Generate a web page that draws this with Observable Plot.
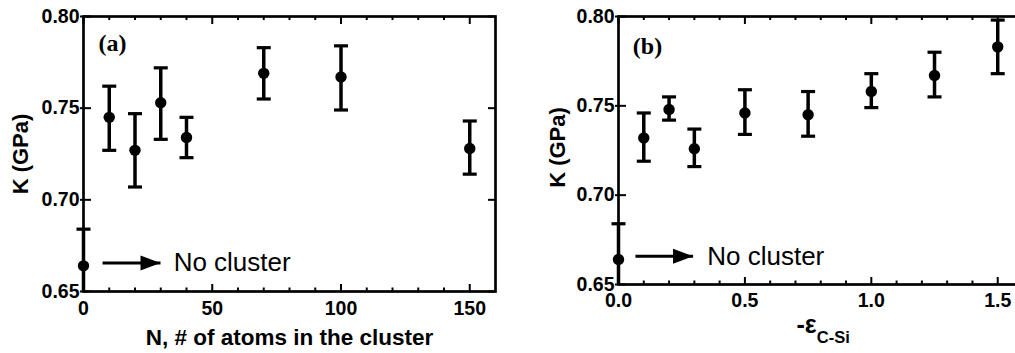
<!DOCTYPE html>
<html>
<head>
<meta charset="utf-8">
<script src="https://cdn.jsdelivr.net/npm/d3@7"></script>
<script src="https://cdn.jsdelivr.net/npm/@observablehq/plot@0.6"></script>
<style>
  html, body { margin: 0; padding: 0; background: #fff; overflow: hidden; }
  #wrap { position: relative; width: 1015px; height: 353px; overflow: hidden; background: #fff; }
  #wrap svg { position: absolute; top: 0; background: #fff; }
</style>
</head>
<body>
<div id="wrap"></div>
<script>
// ---- Panel (a): bulk modulus vs. cluster size ----
const clusterN   = [0, 10, 20, 30, 40, 70, 100, 150];
const clusterK   = [0.664, 0.745, 0.727, 0.753, 0.734, 0.769, 0.767, 0.728];
const clusterHi  = [0.684, 0.762, 0.747, 0.772, 0.745, 0.783, 0.784, 0.743];
const clusterLo  = [0.644, 0.727, 0.707, 0.733, 0.723, 0.755, 0.749, 0.714];

// ---- Panel (b): bulk modulus vs. C–Si interaction strength ----
const epsCSi     = [0, 0.1, 0.2, 0.3, 0.5, 0.75, 1.0, 1.25, 1.5];
const epsK       = [0.664, 0.732, 0.748, 0.726, 0.746, 0.745, 0.758, 0.767, 0.783];
const epsHi      = [0.684, 0.746, 0.755, 0.737, 0.759, 0.758, 0.768, 0.780, 0.798];
const epsLo      = [0.644, 0.719, 0.742, 0.716, 0.734, 0.733, 0.749, 0.755, 0.768];

// ---- Tick positions ----
const yTicks      = [0.65, 0.70, 0.75, 0.80];
const xMajorA     = [0, 50, 100, 150];
const xMinorA     = [10, 20, 30, 40, 60, 70, 80, 90, 110, 120, 130, 140];
const xMajorB     = [0, 0.5, 1.0, 1.5];
const xMinorB     = [0.1, 0.2, 0.3, 0.4, 0.6, 0.7, 0.8, 0.9, 1.1, 1.2, 1.3, 1.4];

// ---- Labels and "No cluster" annotation (data units) ----
const panelTags   = ["(a)", "(b)"];
const yTitle      = "K (GPa)";
const xTitleA     = "N, # of atoms in the cluster";
const xTitleB     = ["-ε", "C-Si"];
const noteText    = "No cluster";
const noteA       = {x1: 7.4, x2: 29.9, y: 0.6655, tx: 35};
const noteB       = {x1: 0.067, x2: 0.295, y: 0.6658, tx: 0.351};

const FONT = "'Liberation Sans', Arial, Helvetica, sans-serif";
const SERIF = "'Liberation Serif', 'Times New Roman', serif";

// horizontal error-bar cap
const capSymbol = {draw(ctx) { ctx.moveTo(-7, 0); ctx.lineTo(7, 0); }};
// filled arrowhead, tip at the anchor point, pointing right
const headSymbol = {draw(ctx) { ctx.moveTo(0, 0); ctx.lineTo(-20, -7.5); ctx.lineTo(-20, 7.5); ctx.closePath(); }};

function rows(xs, k, lo, hi) {
  return xs.map((x, i) => ({x, k: k[i], lo: lo[i], hi: hi[i]}));
}

function panel({data, xDomain, xMajor, xMinor, xFormat, width, height, mt, mr, mb, ml,
                tag, tagDy, note, xTitleMarks, yTitleDx, yTitleDy, xPad}) {
  const plotW = width - ml - mr;
  const plotH = height - mt - mb;
  const caps = data.flatMap(d => [d.hi, d.lo].map(v => ({x: d.x, v})))
                   .filter(c => c.v >= 0.65 && c.v <= 0.80);
  return Plot.plot({
    width, height,
    marginTop: mt, marginRight: mr, marginBottom: mb, marginLeft: ml,
    style: {fontFamily: FONT, fontWeight: "bold", fontSize: "19px", background: "#fff", color: "#000"},
    x: {domain: xDomain},
    y: {domain: [0.65, 0.80], clamp: true},
    marks: [
      // inward ticks on all four sides
      Plot.tickX(xMinor, {x: d => d, insetTop: plotH - 3.5, strokeWidth: 2}),
      Plot.tickX(xMajor, {x: d => d, insetTop: plotH - 7, strokeWidth: 2}),
      Plot.tickX(xMinor, {x: d => d, insetBottom: plotH - 4, strokeWidth: 2}),
      Plot.tickX(xMajor, {x: d => d, insetBottom: plotH - 8, strokeWidth: 2}),
      Plot.tickY(yTicks, {y: d => d, insetLeft: -3, insetRight: plotW - 8, strokeWidth: 2}),
      Plot.tickY(yTicks, {y: d => d, insetLeft: plotW - 7, strokeWidth: 2}),
      Plot.frame({stroke: "#000", strokeWidth: 2.7}),
      Plot.axisY({ticks: yTicks, tickSize: 0, tickPadding: 4, tickFormat: d3.format(".2f"),
                  label: null, fontSize: 19.5, fontWeight: "bold"}),
      Plot.axisX({ticks: xMajor, tickSize: 0, tickPadding: xPad, tickFormat: xFormat,
                  label: null, fontSize: 19.5, fontWeight: "bold"}),
      // error bars
      Plot.ruleX(data, {x: "x", y1: "lo", y2: "hi", stroke: "#000", strokeWidth: 3.5}),
      Plot.dot(caps, {x: "x", y: "v", symbol: capSymbol, fill: "none", stroke: "#000", strokeWidth: 3.2}),
      Plot.dot(data, {x: "x", y: "k", r: 5.7, fill: "#000", stroke: "none"}),
      // "No cluster" arrow and note
      Plot.link([note], {x1: "x1", x2: "x2", y1: "y", y2: "y", stroke: "#000", strokeWidth: 3}),
      Plot.dot([note], {x: "x2", y: "y", symbol: headSymbol, fill: "#000", stroke: "none"}),
      Plot.text([note], {x: "tx", y: "y", text: () => noteText, textAnchor: "start", lineAnchor: "middle",
                         fontSize: 26, fontWeight: "normal", fontFamily: FONT}),
      // panel tag
      Plot.text([tag], {text: d => d, frameAnchor: "top-left", dx: 29, dy: tagDy, textAnchor: "middle",
                        lineAnchor: "middle", fontFamily: SERIF, fontWeight: "bold", fontSize: 24}),
      // axis titles
      Plot.text([yTitle], {text: d => d, frameAnchor: "left", rotate: -90, dx: yTitleDx, dy: yTitleDy,
                           textAnchor: "middle", lineAnchor: "middle", fontSize: 22, fontWeight: "bold"}),
      ...xTitleMarks
    ]
  });
}

const wrap = document.getElementById("wrap");

const svgA = panel({
  data: rows(clusterN, clusterK, clusterLo, clusterHi),
  xDomain: [0, 160], xMajor: xMajorA, xMinor: xMinorA, xFormat: d3.format("d"),
  width: 510, height: 353, mt: 16, mr: 15, mb: 62, ml: 83,
  tag: panelTags[0], tagDy: 27, note: noteA, yTitleDx: -63, yTitleDy: 0, xPad: 10,
  xTitleMarks: [
    Plot.text([xTitleA], {text: d => d, frameAnchor: "bottom", dy: 46, lineAnchor: "middle",
                          fontSize: 22.5, fontWeight: "bold"})
  ]
});
svgA.style.left = "0px";
wrap.appendChild(svgA);

const svgB = panel({
  data: rows(epsCSi, epsK, epsLo, epsHi),
  xDomain: [0, 1.6], xMajor: xMajorB, xMinor: xMinorB, xFormat: d3.format(".1f"),
  width: 530, height: 353, mt: 16, mr: 17.5, mb: 69, ml: 108,
  tag: panelTags[1], tagDy: 30, note: noteB, yTitleDx: -61, yTitleDy: -3, xPad: 9,
  xTitleMarks: [
    Plot.text([xTitleB[0]], {text: d => d, frameAnchor: "bottom", dx: -4, dy: 40, textAnchor: "end",
                             lineAnchor: "middle", fontSize: 25, fontWeight: "bold"}),
    Plot.text([xTitleB[1]], {text: d => d, frameAnchor: "bottom", dx: -4, dy: 53, textAnchor: "start",
                             lineAnchor: "middle", fontSize: 16.5, fontWeight: "bold"})
  ]
});
svgB.style.left = "510px";
wrap.appendChild(svgB);
</script>
</body>
</html>
